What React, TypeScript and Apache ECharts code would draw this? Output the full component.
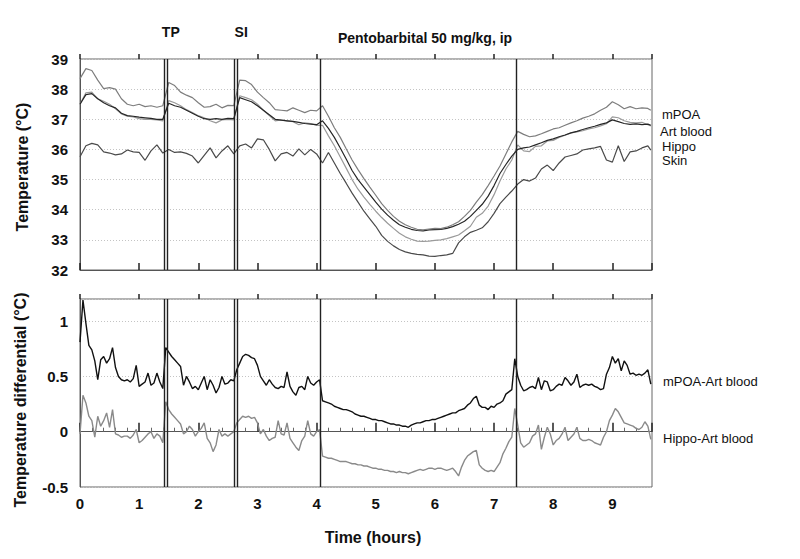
import React, { useEffect, useRef } from "react";
import * as echarts from "echarts";

// ---- Top panel (hours sampled every 0.1 h, last at 9.65) ----
const mPOA = [
  38.35, 38.68, 38.62, 38.3, 38.02, 38.05, 38.0, 37.68, 37.5, 37.45,
  37.5, 37.42, 37.45, 37.4, 37.45, 38.22, 38.12, 37.9, 37.8, 37.72,
  37.55, 37.4, 37.42, 37.5, 37.38, 37.46, 37.45, 38.3, 38.28, 38.15,
  37.9, 37.72, 37.55, 37.32, 37.3, 37.28, 37.38, 37.3, 37.22, 37.3,
  37.28, 37.45, 37.1, 36.72, 36.4, 36.02, 35.65, 35.33, 35.03, 34.75,
  34.48, 34.2, 33.98, 33.78, 33.62, 33.5, 33.42, 33.35, 33.33, 33.36,
  33.38, 33.37, 33.42, 33.5, 33.6, 33.78, 33.98, 34.25, 34.5, 34.8,
  35.12, 35.45, 35.85, 36.25, 36.6, 36.5, 36.42, 36.45, 36.52, 36.6,
  36.68, 36.72, 36.8, 36.88, 36.95, 37.04, 37.1, 37.18, 37.3, 37.4,
  37.58, 37.48, 37.35, 37.42, 37.35, 37.38, 37.36, 37.3,
];
const artBlood = [
  37.5, 37.82, 37.85, 37.68, 37.55, 37.45, 37.38, 37.2, 37.12, 37.1,
  37.07, 37.05, 37.03, 37.0, 37.0, 37.53, 37.45, 37.4, 37.3, 37.2,
  37.1, 37.02, 37.0, 37.02, 37.0, 37.03, 37.02, 37.72, 37.65, 37.58,
  37.45, 37.3, 37.15, 37.0, 36.97, 36.95, 36.93, 36.9, 36.86, 36.84,
  36.82, 36.95, 36.7, 36.4, 36.05, 35.68, 35.3, 35.0, 34.75, 34.5,
  34.25, 34.02, 33.82, 33.65, 33.5, 33.42, 33.35, 33.31, 33.3, 33.33,
  33.34, 33.35, 33.38, 33.44, 33.52, 33.62, 33.78, 33.98, 34.18, 34.45,
  34.8, 35.2, 35.5, 35.78, 36.0, 36.05, 36.08, 36.15, 36.22, 36.3,
  36.35, 36.42, 36.48, 36.55, 36.6, 36.66, 36.72, 36.77, 36.83, 36.88,
  36.98, 36.92, 36.86, 36.83, 36.85, 36.82, 36.84, 36.8,
];
const hippo = [
  37.5, 37.88, 37.9, 37.68, 37.6, 37.5, 37.35, 37.18, 37.1, 37.08,
  37.02, 37.0, 37.0, 36.98, 36.95, 37.62, 37.55, 37.45, 37.32, 37.22,
  37.12, 37.05, 36.95, 36.88, 36.98, 37.0, 36.98, 37.78, 37.72, 37.65,
  37.5, 37.3, 37.12, 36.95, 36.98, 36.95, 36.92, 36.82, 36.88, 36.86,
  36.8, 36.8, 36.45, 36.12, 35.75, 35.38, 35.0, 34.68, 34.42, 34.18,
  33.95, 33.74, 33.55, 33.38, 33.22, 33.1, 33.02, 32.96, 32.95, 32.96,
  32.98, 33.0, 33.04, 33.1, 33.16, 33.3, 33.45, 33.75, 33.88, 34.12,
  34.5, 34.95, 35.35, 35.65, 36.15, 35.95, 35.93, 36.1, 36.12, 36.28,
  36.3, 36.4, 36.47, 36.55, 36.58, 36.62, 36.68, 36.72, 36.78, 36.85,
  37.08, 37.05, 36.95, 36.9, 36.88, 36.9, 36.82, 36.78,
];
const skin = [
  35.76, 36.12, 36.2, 36.15, 35.92, 35.88, 35.82, 35.85, 35.98, 35.92,
  35.9, 35.64, 35.95, 36.15, 35.88, 36.0, 35.9, 35.92, 35.87, 35.78,
  35.55, 35.8, 36.05, 35.72, 35.95, 36.12, 35.85, 36.12, 36.18, 36.05,
  36.35, 36.32, 36.0, 35.62, 35.85, 35.9, 35.78, 36.02, 35.82, 36.0,
  35.85, 35.55, 35.9, 35.55, 35.2, 34.88, 34.55, 34.25, 33.95, 33.7,
  33.45, 33.15, 32.95, 32.8, 32.68, 32.6, 32.55, 32.52, 32.5, 32.46,
  32.45, 32.48, 32.5, 32.55, 32.9, 33.1, 33.25, 33.32, 33.4, 33.6,
  33.88, 34.2, 34.42, 34.62, 34.85, 35.0, 34.95, 35.05, 35.35, 35.48,
  35.3, 35.55, 35.75, 35.8, 35.85, 35.98, 36.02, 36.05, 36.1, 35.65,
  35.58, 36.12, 35.6, 35.92, 35.95, 36.05, 36.12, 35.98,
];

// ---- Bottom panel (hours sampled every 0.05 h) ----
const mPOAminusArt = [
  0.81, 1.19, 0.98, 0.78, 0.74, 0.64, 0.47, 0.65, 0.68, 0.62,
  0.66, 0.76, 0.58, 0.5, 0.47, 0.46, 0.47, 0.45, 0.48, 0.6,
  0.41, 0.43, 0.45, 0.53, 0.42, 0.44, 0.53, 0.45, 0.39, 0.76,
  0.72, 0.68, 0.65, 0.62, 0.59, 0.42, 0.5, 0.45, 0.39, 0.41,
  0.38, 0.44, 0.5, 0.38, 0.47, 0.42, 0.35, 0.4, 0.5, 0.43,
  0.44, 0.47, 0.46, 0.56, 0.62, 0.68, 0.7, 0.69, 0.67, 0.66,
  0.6, 0.5, 0.46, 0.42, 0.47, 0.43, 0.4, 0.39, 0.41, 0.4,
  0.54, 0.41, 0.36, 0.33, 0.4, 0.41, 0.38, 0.5, 0.44, 0.42,
  0.45, 0.47, 0.28, 0.27, 0.26, 0.25, 0.23, 0.22, 0.21, 0.2,
  0.2, 0.19, 0.18, 0.16, 0.15, 0.14, 0.14, 0.13, 0.12, 0.11,
  0.11, 0.1, 0.1, 0.09, 0.08, 0.07, 0.07, 0.06, 0.06, 0.05,
  0.05, 0.04, 0.06, 0.07, 0.08, 0.08, 0.09, 0.1, 0.1, 0.11,
  0.11, 0.12, 0.13, 0.14, 0.15, 0.16, 0.17, 0.17, 0.19, 0.2,
  0.21, 0.24, 0.26, 0.3, 0.32, 0.24, 0.22, 0.22, 0.2, 0.23,
  0.22, 0.25, 0.26, 0.28, 0.34, 0.36, 0.38, 0.66, 0.5, 0.42,
  0.37, 0.38, 0.4, 0.41, 0.39, 0.49, 0.38, 0.46, 0.45, 0.37,
  0.38, 0.41, 0.43, 0.42, 0.49, 0.46, 0.42, 0.45, 0.52, 0.4,
  0.42, 0.43, 0.42, 0.43, 0.41, 0.4, 0.38, 0.39, 0.52, 0.58,
  0.68, 0.62, 0.66, 0.55, 0.64, 0.6, 0.52, 0.53, 0.51, 0.52,
  0.51, 0.53, 0.56, 0.43,
];
const hippoMinusArt = [
  -0.02, 0.33, 0.26, 0.14, 0.1, -0.05, 0.14, 0.05, 0.1, 0.17,
  0.04, 0.2, -0.02, -0.03, -0.05, -0.04, -0.04, -0.06, -0.03, 0.02,
  -0.1, -0.08, -0.05, -0.02, 0.0, -0.06, -0.02, -0.04, -0.1, 0.27,
  0.2, 0.16, 0.13, 0.1, 0.07, -0.02, 0.0, 0.05, 0.02, -0.04,
  0.0, 0.03, 0.08, -0.06, -0.1, -0.18, -0.12, 0.02, -0.04, -0.02,
  -0.04, -0.02, 0.0, 0.08, 0.11, 0.14, 0.13, 0.14, 0.12, 0.13,
  0.08, -0.02, 0.02, -0.04, -0.08, -0.06, -0.05, 0.1, -0.02, -0.03,
  0.08, -0.06, -0.1, -0.14, -0.17, -0.08, -0.04, 0.1, -0.02, -0.04,
  0.0, 0.02, -0.22, -0.23, -0.24, -0.24, -0.25, -0.26, -0.27, -0.27,
  -0.27, -0.28, -0.29, -0.29, -0.3, -0.3, -0.31, -0.31, -0.32, -0.33,
  -0.33, -0.34, -0.34, -0.35, -0.35, -0.36, -0.36, -0.37, -0.36, -0.37,
  -0.37, -0.38, -0.37, -0.36, -0.35, -0.34, -0.35, -0.34, -0.33, -0.33,
  -0.34, -0.33, -0.33, -0.34, -0.35, -0.34, -0.33, -0.36, -0.4, -0.32,
  -0.26, -0.22, -0.2, -0.18, -0.17, -0.3, -0.33, -0.35, -0.36, -0.35,
  -0.36, -0.32, -0.28, -0.2, -0.15, -0.09, -0.05, 0.21, 0.06, -0.1,
  -0.14, -0.12, -0.1, -0.04, -0.02, 0.06, -0.16, -0.05, 0.04, -0.02,
  -0.12, -0.08, -0.06, -0.02, 0.04, -0.08, -0.05, -0.02, 0.04, -0.06,
  -0.08, -0.08, -0.07, -0.08, -0.1, -0.11, -0.12, -0.05, 0.0, 0.1,
  0.15, 0.21, 0.18, 0.13, 0.08, 0.07, 0.06, 0.05, 0.03, 0.02,
  0.04, 0.09, 0.05, -0.07,
];

// Event markers (hours)
const eventLines = [1.42, 1.47, 2.61, 2.66, 4.07, 7.38];
const eventLabels = [
  { text: "TP", hour: 1.45 },
  { text: "SI", hour: 2.64 },
];
const xTickLabels = ["0", "1", "2", "3", "4", "5", "6", "7", "8", "9"];

const topTime = mPOA.map((_, i) => (i < mPOA.length - 1 ? +(i * 0.1).toFixed(2) : 9.65));
const bottomTime = mPOAminusArt.map((_, i) => +(i * 0.05).toFixed(2));

const pair = (t: number[], v: number[]) => v.map((y, i) => [t[i], y]);

const FONT = "'Liberation Sans', Arial, Helvetica, sans-serif";

export default function App() {
  const ref = useRef<HTMLDivElement>(null);
  useEffect(() => {
    document.body.style.margin = "0";
    if (!ref.current) return;
    const chart = echarts.init(ref.current, undefined, { renderer: "svg" });

    const gridL = 80;
    const gridW = 572;
    const xMax = 9.67;
    const toPx = (h: number) => gridL + (h / xMax) * gridW;

    const mainX = (grid: number, labels: boolean, inLen: number) => ({
      type: "value",
      gridIndex: grid,
      min: 0,
      max: xMax,
      interval: 1,
      axisLine: { show: true, lineStyle: { color: "#555", width: 1 } },
      axisTick: { show: true, inside: true, length: inLen, lineStyle: { color: "#222", width: 1.5 } },
      minorTick: labels
        ? { show: true, splitNumber: 5, length: 4, lineStyle: { color: "#666", width: 1 } }
        : { show: false },
      axisLabel: labels
        ? {
            show: true,
            margin: 9,
            showMaxLabel: false,
            fontFamily: FONT,
            fontWeight: "bold",
            fontSize: 15,
            color: "#111",
            formatter: (v: number) => (Number.isInteger(v) ? xTickLabels[v] ?? "" : ""),
          }
        : { show: false },
      splitLine: { show: false },
    });
    const outX = (grid: number) => ({
      type: "value",
      gridIndex: grid,
      min: 0,
      max: xMax,
      interval: 1,
      axisLine: { show: false },
      axisTick: { show: true, inside: false, length: 5, lineStyle: { color: "#222", width: 1.5 } },
      axisLabel: { show: false },
      splitLine: { show: false },
    });

    const markLine = {
      silent: true,
      symbol: ["none", "none"],
      label: { show: false },
      lineStyle: { color: "#222", width: 1.4, type: "solid" },
      data: eventLines.map((x) => ({ xAxis: x })),
    };

    const lineSeries = (name: string, xi: number, yi: number, data: number[][], color: string, w = 1.3, ml?: any) => ({
      name,
      type: "line",
      xAxisIndex: xi,
      yAxisIndex: yi,
      data,
      showSymbol: false,
      symbol: "none",
      lineStyle: { color, width: w },
      itemStyle: { color },
      z: 3,
      ...(ml ? { markLine: ml } : {}),
    });

    const rightLabel = (text: string, x: number, y: number) => ({
      type: "text",
      x,
      y,
      style: { text, fill: "#111", font: `13px ${FONT}`, textAlign: "left", textVerticalAlign: "middle" },
    });

    const gridLine = { show: true, lineStyle: { color: "#c4c4c4", type: [1, 2], width: 1 } };

    chart.setOption({
      animation: false,
      backgroundColor: "#fff",
      grid: [
        { left: gridL, top: 59, width: gridW, height: 211, show: true, borderColor: "#666", borderWidth: 1 },
        { left: gridL, top: 299, width: gridW, height: 188, show: true, borderColor: "#666", borderWidth: 1 },
      ],
      xAxis: [mainX(0, false, 7), outX(0), mainX(1, true, 9), outX(1)],
      yAxis: [
        {
          type: "value",
          gridIndex: 0,
          min: 32,
          max: 39,
          interval: 1,
          axisLine: { show: true, lineStyle: { color: "#555" } },
          axisTick: { show: false },
          axisLabel: { margin: 12, fontFamily: FONT, fontWeight: "bold", fontSize: 15, color: "#111" },
          splitLine: gridLine,
        },
        {
          type: "value",
          gridIndex: 1,
          min: -0.5,
          max: 1.2,
          interval: 0.5,
          axisLine: { show: true, lineStyle: { color: "#555" } },
          axisTick: { show: false },
          axisLabel: {
            margin: 12,
            showMaxLabel: false,
            fontFamily: FONT,
            fontWeight: "bold",
            fontSize: 15,
            color: "#111",
            formatter: (v: number) => (Math.abs(v - 1.2) < 1e-6 ? "" : String(v)),
          },
          splitLine: gridLine,
        },
      ],
      series: [
        lineSeries("Skin", 0, 0, pair(topTime, skin), "#4a4a4a", 1.2, markLine),
        lineSeries("Hippo", 0, 0, pair(topTime, hippo), "#9a9a9a", 1.2),
        lineSeries("Art blood", 0, 0, pair(topTime, artBlood), "#262626", 1.2),
        lineSeries("mPOA", 0, 0, pair(topTime, mPOA), "#7d7d7d", 1.2),
        lineSeries("Hippo-Art blood", 2, 1, pair(bottomTime, hippoMinusArt), "#8a8a8a", 1.4, markLine),
        lineSeries("mPOA-Art blood", 2, 1, pair(bottomTime, mPOAminusArt), "#111", 1.4),
      ],
      graphic: [
        ...eventLabels.map((e) => ({
          type: "text",
          x: toPx(e.hour) + 5,
          y: 32,
          style: { text: e.text, fill: "#111", font: `bold 14px ${FONT}`, textAlign: "center", textVerticalAlign: "middle" },
        })),
        {
          type: "text",
          x: 425,
          y: 38,
          style: {
            text: "Pentobarbital 50 mg/kg, ip",
            fill: "#111",
            font: `bold 14px ${FONT}`,
            textAlign: "center",
            textVerticalAlign: "middle",
          },
        },
        rightLabel("mPOA", 662, 114),
        rightLabel("Art blood", 660, 131),
        rightLabel("Hippo", 662, 146),
        rightLabel("Skin", 662, 160),
        rightLabel("mPOA-Art blood", 663, 381),
        rightLabel("Hippo-Art blood", 663, 438),
        {
          type: "text",
          x: 22,
          y: 167,
          rotation: Math.PI / 2,
          style: { text: "Temperature (°C)", fill: "#111", font: `bold 16px ${FONT}`, textAlign: "center", textVerticalAlign: "middle" },
        },
        {
          type: "text",
          x: 20,
          y: 400,
          rotation: Math.PI / 2,
          style: {
            text: "Temperature differential (°C)",
            fill: "#111",
            font: `bold 16px ${FONT}`,
            textAlign: "center",
            textVerticalAlign: "middle",
          },
        },
        {
          type: "text",
          x: 373,
          y: 537,
          style: { text: "Time (hours)", fill: "#111", font: `bold 16px ${FONT}`, textAlign: "center", textVerticalAlign: "middle" },
        },
      ],
    });
    return () => chart.dispose();
  }, []);
  return <div ref={ref} style={{ width: 800, height: 559 }} />;
}
